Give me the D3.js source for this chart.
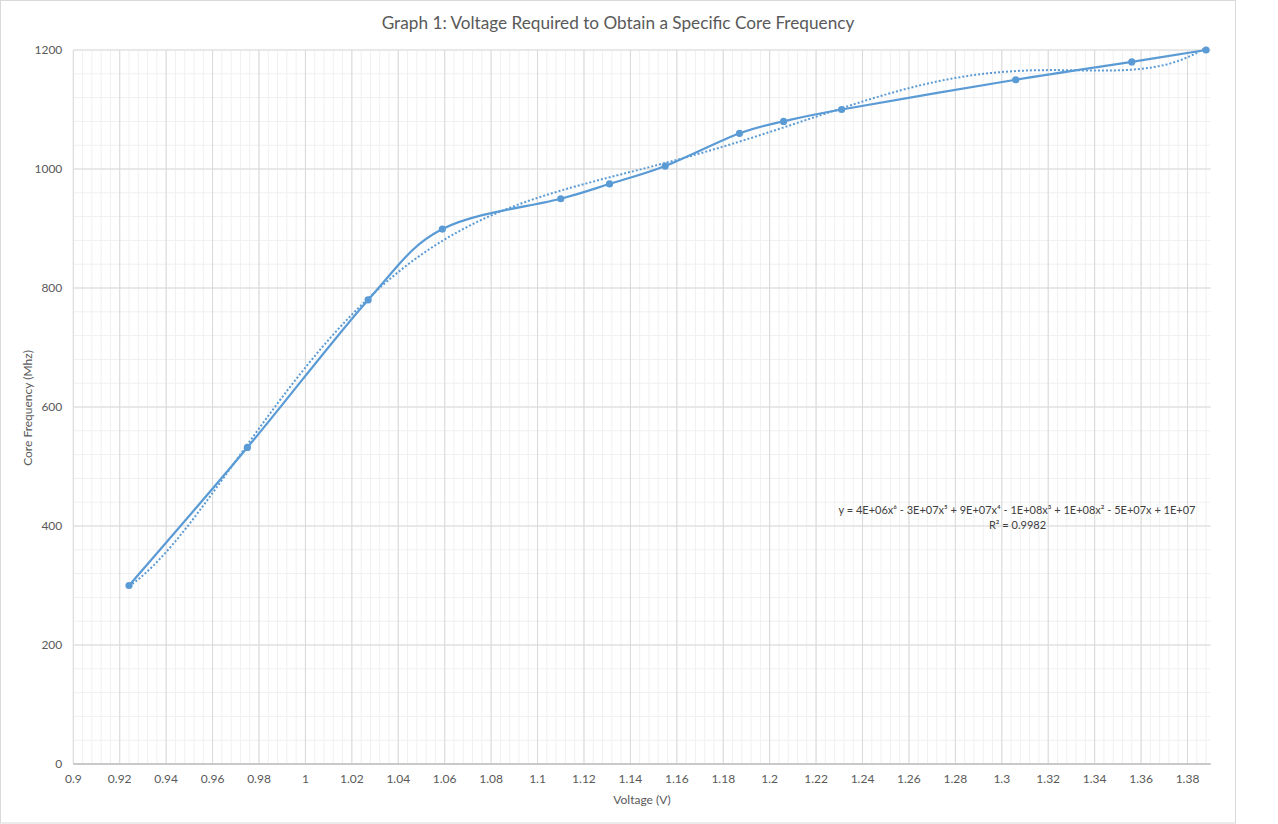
<!DOCTYPE html>
<html>
<head>
<meta charset="utf-8">
<script src="https://cdn.jsdelivr.net/npm/d3@7"></script>
<style>
  body { margin: 0; background: #fff; }
  text { font-family: Lato, "Noto Sans", sans-serif; fill: #595959; }
</style>
</head>
<body>
<div id="chart"></div>
<script>
// data
var voltage = [0.924, 0.975, 1.027, 1.059, 1.110, 1.131, 1.155, 1.187, 1.206, 1.231, 1.306, 1.356, 1.388];
var frequency = [300, 532, 780, 899, 950, 975, 1005, 1060, 1080, 1100, 1150, 1180, 1200];

var xTicks = [0.9, 0.92, 0.94, 0.96, 0.98, 1, 1.02, 1.04, 1.06, 1.08, 1.1, 1.12, 1.14, 1.16, 1.18,
  1.2, 1.22, 1.24, 1.26, 1.28, 1.3, 1.32, 1.34, 1.36, 1.38];
var yTicks = [0, 200, 400, 600, 800, 1000, 1200];

var titleText = "Graph 1: Voltage Required to Obtain a Specific Core Frequency";
var xTitle = "Voltage (V)";
var yTitle = "Core Frequency (Mhz)";
var eqLine1 = "y = 4E+06x⁶ - 3E+07x⁵ + 9E+07x⁴ - 1E+08x³ + 1E+08x² - 5E+07x + 1E+07";
var eqLine2 = "R² = 0.9982";

var svgWidth = 1278;
var svgHeight = 824;

var chartMargin = { top: 50, left: 73.3 };
var chartWidth = 1137.4;
var chartHeight = 714;

var blue = "#5b9bd5";

var svg = d3.select("#chart")
  .append("svg")
  .attr("width", svgWidth)
  .attr("height", svgHeight);

// outer chart border
svg.append("rect")
  .attr("x", 0.5).attr("y", 0.5)
  .attr("width", 1235).attr("height", 822.5)
  .attr("fill", "#fff")
  .attr("stroke", "#d9d9d9");

var chartGroup = svg.append("g")
  .attr("transform", `translate(${chartMargin.left}, ${chartMargin.top})`);

var xScale = d3.scaleLinear().domain([0.9, 1.39]).range([0, chartWidth]);
var yScale = d3.scaleLinear().domain([0, 1200]).range([chartHeight, 0]);

// minor gridlines
var xMinor = d3.range(0, 123).map(i => 0.9 + i * 0.004).filter(v => v <= 1.3901);
var yMinor = d3.range(0, 31).map(i => i * 40);

chartGroup.selectAll(".xminor")
  .data(xMinor)
  .enter().append("line")
  .attr("x1", d => xScale(d)).attr("x2", d => xScale(d))
  .attr("y1", 0).attr("y2", chartHeight)
  .attr("stroke", "#f0f0f0").attr("stroke-width", 1);

chartGroup.selectAll(".yminor")
  .data(yMinor)
  .enter().append("line")
  .attr("x1", 0).attr("x2", chartWidth)
  .attr("y1", d => yScale(d)).attr("y2", d => yScale(d))
  .attr("stroke", "#f0f0f0").attr("stroke-width", 1);

// major gridlines
chartGroup.selectAll(".xmajor")
  .data(xTicks)
  .enter().append("line")
  .attr("x1", d => xScale(d)).attr("x2", d => xScale(d))
  .attr("y1", 0).attr("y2", chartHeight)
  .attr("stroke", "#d9d9d9").attr("stroke-width", 1);

chartGroup.selectAll(".ymajor")
  .data(yTicks)
  .enter().append("line")
  .attr("x1", 0).attr("x2", chartWidth)
  .attr("y1", d => yScale(d)).attr("y2", d => yScale(d))
  .attr("stroke", "#d9d9d9").attr("stroke-width", 1);

// x axis line
chartGroup.append("line")
  .attr("x1", 0).attr("x2", chartWidth)
  .attr("y1", chartHeight).attr("y2", chartHeight)
  .attr("stroke", "#bfbfbf").attr("stroke-width", 1.3);

// tick labels
chartGroup.selectAll(".xlab")
  .data(xTicks)
  .enter().append("text")
  .attr("x", d => xScale(d))
  .attr("y", chartHeight + 19)
  .attr("text-anchor", "middle")
  .style("font-size", "12px")
  .text(d => String(+d.toFixed(2)));

chartGroup.selectAll(".ylab")
  .data(yTicks)
  .enter().append("text")
  .attr("x", -11)
  .attr("y", d => yScale(d) + 4)
  .attr("text-anchor", "end")
  .style("font-size", "12px")
  .text(d => d);

// polynomial trendline (order 6 least squares on the data)
function polyFit(xs, ys, order) {
  var n = order + 1;
  var c = 1.15, s = 0.25;
  var A = [], b = [];
  for (var i = 0; i < n; i++) { A.push(new Array(n).fill(0)); b.push(0); }
  xs.forEach(function(x, k) {
    var t = (x - c) / s;
    for (var i = 0; i < n; i++) {
      b[i] += ys[k] * Math.pow(t, i);
      for (var j = 0; j < n; j++) A[i][j] += Math.pow(t, i + j);
    }
  });
  for (var p = 0; p < n; p++) {
    var max = p;
    for (var r = p + 1; r < n; r++) if (Math.abs(A[r][p]) > Math.abs(A[max][p])) max = r;
    [A[p], A[max]] = [A[max], A[p]];
    [b[p], b[max]] = [b[max], b[p]];
    for (var r = p + 1; r < n; r++) {
      var f = A[r][p] / A[p][p];
      for (var j = p; j < n; j++) A[r][j] -= f * A[p][j];
      b[r] -= f * b[p];
    }
  }
  var coef = new Array(n).fill(0);
  for (var i = n - 1; i >= 0; i--) {
    var sum = b[i];
    for (var j = i + 1; j < n; j++) sum -= A[i][j] * coef[j];
    coef[i] = sum / A[i][i];
  }
  return function(x) {
    var t = (x - c) / s, y = 0;
    for (var i = n - 1; i >= 0; i--) y = y * t + coef[i];
    return y;
  };
}

var trend = polyFit(voltage, frequency, 6);
var xMin = d3.min(voltage), xMax = d3.max(voltage);
var trendPts = d3.range(0, 301).map(i => {
  var x = xMin + (xMax - xMin) * i / 300;
  return [x, trend(x)];
});

chartGroup.append("path")
  .datum(trendPts)
  .attr("fill", "none")
  .attr("stroke", blue)
  .attr("stroke-width", 2)
  .attr("stroke-dasharray", "2,2")
  .attr("d", d3.line().x(d => xScale(d[0])).y(d => yScale(d[1])));

// smoothed series line
var points = voltage.map((v, i) => ({ v: v, f: frequency[i] }));

chartGroup.append("path")
  .datum(points)
  .attr("fill", "none")
  .attr("stroke", blue)
  .attr("stroke-width", 2.25)
  .attr("stroke-linejoin", "round")
  .attr("d", d3.line().curve(d3.curveCardinal.tension(0)).x(d => xScale(d.v)).y(d => yScale(d.f)));

chartGroup.selectAll(".dot")
  .data(points)
  .enter().append("circle")
  .attr("cx", d => xScale(d.v))
  .attr("cy", d => yScale(d.f))
  .attr("r", 3.6)
  .attr("fill", blue);

// equation label
chartGroup.append("text")
  .attr("x", 1017 - chartMargin.left)
  .attr("y", 514 - chartMargin.top)
  .attr("text-anchor", "middle")
  .style("font-size", "11px")
  .style("fill", "#404040")
  .text(eqLine1);

chartGroup.append("text")
  .attr("x", 1017.5 - chartMargin.left)
  .attr("y", 528.5 - chartMargin.top)
  .attr("text-anchor", "middle")
  .style("font-size", "11px")
  .style("fill", "#404040")
  .text(eqLine2);

// titles
svg.append("text")
  .attr("x", 618)
  .attr("y", 29)
  .attr("text-anchor", "middle")
  .style("font-size", "17.2px")
  .text(titleText);

svg.append("text")
  .attr("x", chartMargin.left + chartWidth / 2)
  .attr("y", 804)
  .attr("text-anchor", "middle")
  .style("font-size", "12px")
  .text(xTitle);

svg.append("text")
  .attr("transform", "rotate(-90)")
  .attr("x", -408)
  .attr("y", 32)
  .attr("text-anchor", "middle")
  .style("font-size", "12px")
  .text(yTitle);
</script>
</body>
</html>
